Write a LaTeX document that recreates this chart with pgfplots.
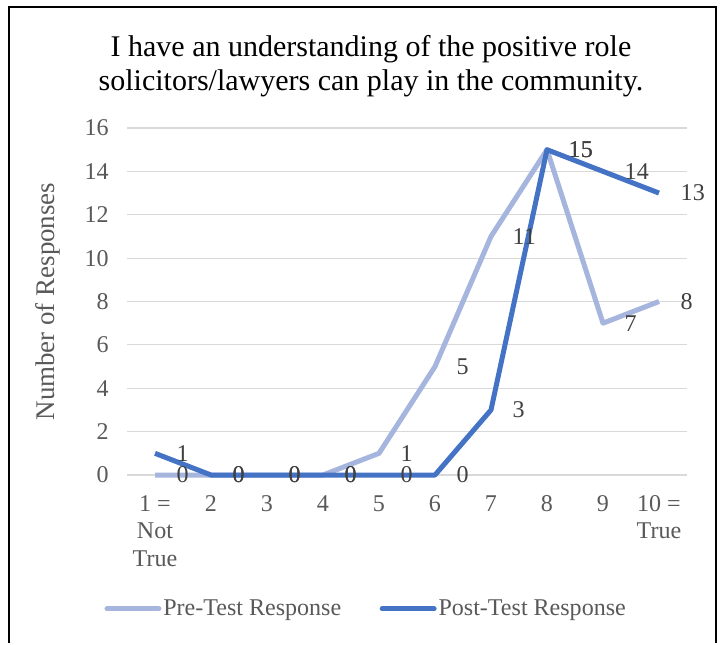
\documentclass[border=0pt]{standalone}
\usepackage{pgfplots}
\pgfplotsset{compat=1.18}
\usepackage{fontspec}
\setmainfont{Liberation Serif}
\definecolor{pre}{HTML}{A6B5DE}
\definecolor{post}{HTML}{4472C4}
\definecolor{txt}{HTML}{595959}
\definecolor{lbl}{HTML}{404040}
\definecolor{gridc}{HTML}{D9D9D9}
\begin{document}
\begin{tikzpicture}
% background and frame (1px = 0.52pt)
\path[fill=white] (0,0) rectangle (375.44pt,-334.36pt);
\draw[line width=1.1pt] (4.68pt,-334.36pt) -- (4.68pt,-3.64pt) -- (372.32pt,-3.64pt) -- (372.32pt,-334.36pt);
\node[align=center, font=\fontsize{15.6}{17.8}\selectfont] at (192.9pt,-34.5pt)
  {I have an understanding of the positive role\\solicitors/lawyers can play in the community.};
\begin{axis}[
  at={(66.04pt,-247pt)}, anchor=south west,
  scale only axis, width=291.2pt, height=180.44pt,
  xmin=0.5, xmax=10.5, ymin=0, ymax=16,
  xtick={1,...,10},
  xticklabels={{1 =\\Not\\True},2,3,4,5,6,7,8,9,{10 =\\True}},
  ytick={0,2,...,16},
  axis line style={draw=none},
  major tick length=0pt,
  ymajorgrids, grid style={gridc, line width=0.6pt},
  tick label style={font=\fontsize{12.5}{14.3}\selectfont, text=txt},
  /pgf/number format/assume math mode=true,
  xticklabel style={align=center, yshift=-7pt},
  yticklabel style={xshift=-6pt},
  ylabel={Number of Responses},
  ylabel style={font=\fontsize{14}{16}\selectfont, text=txt, at={(axis description cs:-0.142,0.5)}, anchor=center},
  clip=false,
  nodes near coords,
  every node near coord/.style={anchor=west, inner sep=0pt, xshift=10pt, font=\fontsize{12.5}{14}\selectfont, text=lbl},
  legend columns=2,
  legend style={draw=none, fill=none, at={(axis description cs:0.427,-0.386)}, anchor=center,
    font=\fontsize{12.5}{14}\selectfont, text=txt,
    nodes={inner sep=1pt},
    /tikz/every even column/.append style={column sep=19pt}},
  legend image code/.code={\draw[#1, line cap=round] (0pt,0pt) -- (27pt,0pt);},
]
\addplot[pre, line width=2.6pt, line join=round, mark=none] coordinates {
  (1,0) (2,0) (3,0) (4,0) (5,1) (6,5) (7,11) (8,15) (9,7) (10,8)};
\addlegendentry{Pre-Test Response}
\addplot[post, line width=2.6pt, line join=round, mark=none] coordinates {
  (1,1) (2,0) (3,0) (4,0) (5,0) (6,0) (7,3) (8,15) (9,14) (10,13)};
\addlegendentry{Post-Test Response}
\end{axis}
\end{tikzpicture}
\end{document}
